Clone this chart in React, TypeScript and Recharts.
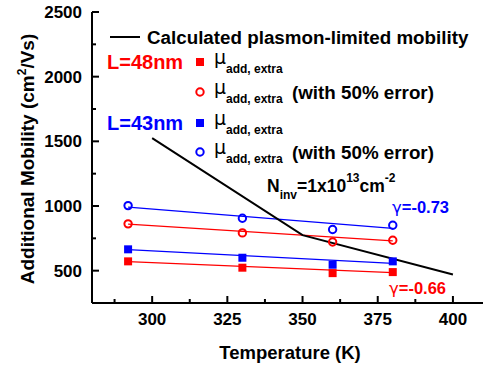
import React from 'react';
import { ComposedChart, Line, Scatter, XAxis, YAxis, Customized } from 'recharts';

// measured points (T in K, mobility in cm2/Vs)
const temps = [292, 330, 360, 380];
const red48Solid = [572, 523, 481, 489];
const red48Open = [862, 792, 722, 735];
const blue43Solid = [665, 600, 546, 572];
const blue43Open = [1003, 905, 818, 851];

// power-law fit lines, drawn between first and last temperature
const fitTemps = [292, 380];
const red48SolidFit = [570, 485];
const red48OpenFit = [860, 730];
const blue43SolidFit = [662, 556];
const blue43OpenFit = [992, 827];

// calculated plasmon-limited mobility
const plasmonTemps = [300, 350, 400];
const plasmonMobility = [1525, 775, 470];

const xTicks = [287.5, 300, 312.5, 325, 337.5, 350, 362.5, 375, 387.5, 400];
const yTicks = [250, 500, 750, 1000, 1250, 1500, 1750, 2000, 2250, 2500];

const RED = '#ff0000';
const BLUE = '#0000ff';
const FONT = '"Liberation Sans", Arial, sans-serif';
const GREEK = '"DejaVu Sans", sans-serif';

const toPoints = (xs: number[], ys: number[]) => xs.map((x, i) => ({ x, y: ys[i] }));

const isMajorX = (v: number) => v % 25 === 0;
const isMajorY = (v: number) => v % 500 === 0;

const BottomTick = (props: any) => {
  const { x, y, payload } = props;
  const major = isMajorX(payload.value);
  return (
    <g>
      <line x1={x} x2={x} y1={y} y2={y - (major ? 7 : 4)} stroke="#000" strokeWidth={2} />
      {major && (
        <text x={x} y={y + 22} textAnchor="middle" fontFamily={FONT} fontWeight="bold" fontSize={17} fill="#000">
          {payload.value}
        </text>
      )}
    </g>
  );
};

const TopTick = (props: any) => {
  const { x, y, payload } = props;
  const major = isMajorX(payload.value);
  return <line x1={x} x2={x} y1={y} y2={y + (major ? 7 : 4)} stroke="#000" strokeWidth={2} />;
};

const LeftTick = (props: any) => {
  const { x, y, payload } = props;
  const major = isMajorY(payload.value);
  return (
    <g>
      <line x1={x} x2={x + (major ? 7 : 4)} y1={y} y2={y} stroke="#000" strokeWidth={2} />
      {major && (
        <text x={x - 10} y={y + 6} textAnchor="end" fontFamily={FONT} fontWeight="bold" fontSize={17} fill="#000">
          {payload.value}
        </text>
      )}
    </g>
  );
};

const RightTick = (props: any) => {
  const { x, y, payload } = props;
  const major = isMajorY(payload.value);
  return <line x1={x} x2={x - (major ? 7 : 4)} y1={y} y2={y} stroke="#000" strokeWidth={2} />;
};

const square = (color: string) => (p: any) => (
  <rect x={p.cx - 4} y={p.cy - 4} width={8} height={8} fill={color} />
);
const ring = (color: string) => (p: any) => (
  <circle cx={p.cx} cy={p.cy} r={3.7} fill="none" stroke={color} strokeWidth={2} />
);

// μ followed by its subscript, as one text element
const MuLabel = ({ x, y, tail }: { x: number; y: number; tail?: boolean }) => (
  <text x={x} y={y + 2} fontFamily={GREEK} fontSize={19} fill="#000">
    μ
    <tspan x={x + 12} dy={9} fontFamily={FONT} fontSize={12} fontWeight="bold">add, extra</tspan>
    {tail && (
      <tspan x={x + 78} dy={-4.5} fontFamily={FONT} fontSize={18.8} fontWeight="bold">(with 50% error)</tspan>
    )}
  </text>
);

const Overlay = () => (
  <g>
    {/* legend */}
    <line x1={110} x2={140} y1={37} y2={37} stroke="#000" strokeWidth={2} />
    <text x={147} y={43.5} fontFamily={FONT} fontWeight="bold" fontSize={18.8} fill="#000">
      Calculated plasmon-limited mobility
    </text>
    <text x={107} y={69} fontFamily={FONT} fontWeight="bold" fontSize={20} fill={RED}>L=48nm</text>
    <rect x={196} y={58} width={8} height={8} fill={RED} />
    <MuLabel x={214} y={62} />
    <circle cx={200} cy={92} r={3.7} fill="none" stroke={RED} strokeWidth={2} />
    <MuLabel x={214} y={92} tail />
    <text x={107} y={130} fontFamily={FONT} fontWeight="bold" fontSize={20} fill={BLUE}>L=43nm</text>
    <rect x={196} y={119} width={8} height={8} fill={BLUE} />
    <MuLabel x={214} y={123} />
    <circle cx={200} cy={152} r={3.7} fill="none" stroke={BLUE} strokeWidth={2} />
    <MuLabel x={214} y={152} tail />

    {/* annotations */}
    <text x={267} y={192} fontFamily={FONT} fontWeight="bold" fontSize={17.5} fill="#000">
      N
      <tspan fontSize={12} dy={7}>inv</tspan>
      <tspan fontSize={17.5} dy={-7}>=1x10</tspan>
      <tspan fontSize={12} dy={-10}>13</tspan>
      <tspan fontSize={17.5} dy={10}>cm</tspan>
      <tspan fontSize={12} dy={-10}>-2</tspan>
    </text>
    <text x={392} y={213} fontFamily={FONT} fontWeight="bold" fontSize={16.5} fill={BLUE}>
      <tspan fontFamily={GREEK} fontWeight="normal">γ</tspan>=-0.73
    </text>
    <text x={389} y={294} fontFamily={FONT} fontWeight="bold" fontSize={16.5} fill={RED}>
      <tspan fontFamily={GREEK} fontWeight="normal">γ</tspan>=-0.66
    </text>

    {/* axis titles */}
    <text x={290} y={359} textAnchor="middle" fontFamily={FONT} fontWeight="bold" fontSize={18.5} fill="#000">
      Temperature (K)
    </text>
    <text
      x={34}
      y={159}
      transform="rotate(-90, 34, 159)"
      textAnchor="middle"
      fontFamily={FONT}
      fontWeight="bold"
      fontSize={19}
      fill="#000"
    >
      Additional Mobility (cm
      <tspan fontSize={12} dy={-8}>2</tspan>
      <tspan fontSize={19} dy={8}>/Vs)</tspan>
    </text>
  </g>
);

export default function App() {
  return (
    <div style={{ position: 'absolute', left: 0, top: 0, width: 488, height: 366, background: '#fff' }}>
      <ComposedChart width={488} height={366} margin={{ top: 12, right: 5, bottom: 0, left: 0 }}>
        <XAxis
          dataKey="x"
          type="number"
          domain={[280, 410]}
          allowDataOverflow
          ticks={xTicks}
          interval={0}
          height={63}
          tickSize={0}
          tickMargin={0}
          tickLine={false}
          tick={BottomTick}
          axisLine={{ stroke: '#000', strokeWidth: 2 }}
        />
        <XAxis
          xAxisId="top"
          orientation="top"
          dataKey="x"
          type="number"
          domain={[280, 410]}
          allowDataOverflow
          ticks={xTicks}
          interval={0}
          height={0}
          tickSize={0}
          tickMargin={0}
          tickLine={false}
          tick={TopTick}
          axisLine={{ stroke: '#000', strokeWidth: 2 }}
        />
        <YAxis
          type="number"
          domain={[250, 2500]}
          allowDataOverflow
          ticks={yTicks}
          interval={0}
          width={92}
          tickSize={0}
          tickMargin={0}
          tickLine={false}
          tick={LeftTick}
          axisLine={{ stroke: '#000', strokeWidth: 2 }}
        />
        <YAxis
          yAxisId="right"
          orientation="right"
          type="number"
          domain={[250, 2500]}
          allowDataOverflow
          ticks={yTicks}
          interval={0}
          width={0}
          tickSize={0}
          tickMargin={0}
          tickLine={false}
          tick={RightTick}
          axisLine={{ stroke: '#000', strokeWidth: 2 }}
        />

        <Line data={toPoints(fitTemps, blue43OpenFit)} dataKey="y" stroke={BLUE} strokeWidth={1.3} dot={false} isAnimationActive={false} />
        <Line data={toPoints(fitTemps, red48OpenFit)} dataKey="y" stroke={RED} strokeWidth={1.3} dot={false} isAnimationActive={false} />
        <Line data={toPoints(fitTemps, blue43SolidFit)} dataKey="y" stroke={BLUE} strokeWidth={1.3} dot={false} isAnimationActive={false} />
        <Line data={toPoints(fitTemps, red48SolidFit)} dataKey="y" stroke={RED} strokeWidth={1.3} dot={false} isAnimationActive={false} />
        <Line data={toPoints(plasmonTemps, plasmonMobility)} dataKey="y" stroke="#000" strokeWidth={2} dot={false} isAnimationActive={false} />

        <Scatter data={toPoints(temps, blue43Open)} dataKey="y" shape={ring(BLUE)} isAnimationActive={false} />
        <Scatter data={toPoints(temps, red48Open)} dataKey="y" shape={ring(RED)} isAnimationActive={false} />
        <Scatter data={toPoints(temps, blue43Solid)} dataKey="y" shape={square(BLUE)} isAnimationActive={false} />
        <Scatter data={toPoints(temps, red48Solid)} dataKey="y" shape={square(RED)} isAnimationActive={false} />

        <Customized component={Overlay} />
      </ComposedChart>
    </div>
  );
}
